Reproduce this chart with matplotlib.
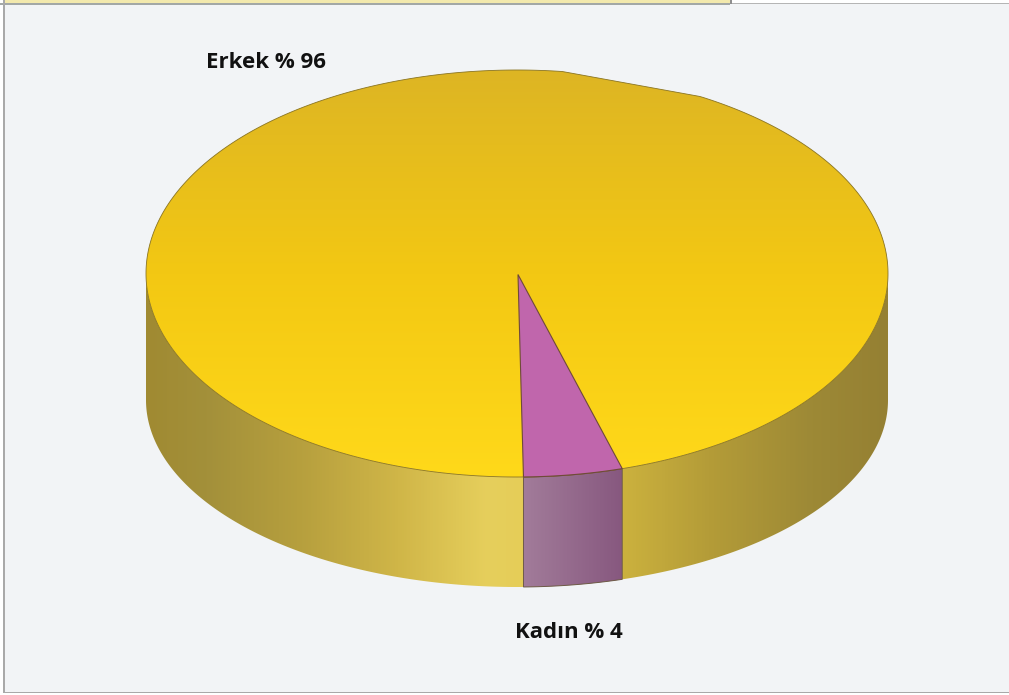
import numpy as np
import matplotlib.pyplot as plt
from matplotlib.colors import LinearSegmentedColormap
from matplotlib.patches import Polygon, Rectangle

# slice shares as drawn (the labels round them to 96 / 4)
labels = ["Erkek % 96", "Kadın % 4"]
shares = [95.7, 4.3]

W, H = 1009, 695
BG = "#f2f4f6"
EDGE = "#8a7420"

# pie geometry in pixels
cx, cy, rx, ry = 517, 273.5, 371, 203.5
bottom_cy, bottom_ry = 400, 187
start = 89.0
sweep = 360 * shares[1] / sum(shares)


def rim(t, y0=cy, r=ry):
    t = np.radians(t)
    return cx + rx * np.cos(t), y0 + r * np.sin(t)


def gradient(ax, clip, extent, cmap, vertical=False):
    g = np.linspace(0, 1, 512)
    g = g[:, None] if vertical else g[None, :]
    # extent runs top to bottom because the y axis is inverted
    im = ax.imshow(g, extent=extent, cmap=cmap, aspect="auto", origin="upper", zorder=2)
    im.set_clip_path(clip)


fig = plt.figure(figsize=(W / 100, H / 100), dpi=100, facecolor="white")
ax = fig.add_axes([0, 0, 1, 1])
ax.set_axis_off()

# panel and the strip above it
ax.add_patch(Rectangle((3, 3), W, 690, fc=BG, ec="none", zorder=0))
ax.add_patch(Rectangle((5, 0), 725, 3, fc="#f3e9ad", ec="none", zorder=0))
ax.add_patch(Rectangle((0, 3), 730, 1.5, fc="#a3a8a6", ec="none", zorder=1))
ax.add_patch(Rectangle((730, 3), W, 1.2, fc="#b5b5b5", ec="none", zorder=1))
ax.add_patch(Rectangle((730, 0), 1.5, 4, fc="#8f8f8f", ec="none", zorder=1))
ax.add_patch(Rectangle((3, 0), 2, 692, fc="#a9a9a9", ec="none", zorder=1))
ax.add_patch(Rectangle((3, 691.5), W, 1.8, fc="#a9a9a9", ec="none", zorder=1))

# side wall
ts = np.linspace(0, 180, 361)
xb, yb = rim(ts, bottom_cy, bottom_ry)
xt, yt = rim(ts)
side_pts = np.r_[np.c_[xb, yb], np.c_[xt[::-1], yt[::-1]]]
side = Polygon(side_pts, closed=True, fc="none", ec="none", transform=ax.transData)
ax.add_patch(side)
stops = [(0, "#a08a32"), (0.08, "#a3903a"), (0.21, "#b7a03e"), (0.34, "#d0b648"),
         (0.46, "#e6cf5c"), (0.51, "#e5cd58"), (0.64, "#ccb23e"), (0.76, "#b49c38"),
         (0.9, "#9d8936"), (1, "#958033")]
gradient(ax, side, (cx - rx, cx + rx, 600, 270),
         LinearSegmentedColormap.from_list("wall", stops))

# Kadın part of the wall
ts2 = np.linspace(start - sweep, start, 40)
xb2, yb2 = rim(ts2, bottom_cy, bottom_ry)
xt2, yt2 = rim(ts2)
wall2 = Polygon(np.r_[np.c_[xb2, yb2], np.c_[xt2[::-1], yt2[::-1]]], closed=True,
                fc="none", ec="none")
ax.add_patch(wall2)
gradient(ax, wall2, (xt2.min(), xt2.max(), 600, 460),
         LinearSegmentedColormap.from_list("wall2", ["#a27c9a", "#87587f"]))
wall2_edge = Polygon(wall2.get_xy(), closed=True, fc="none", ec="#6d5a4a", lw=0.7, zorder=3)
ax.add_patch(wall2_edge)

# top face, with the flat stretch on its upper edge
tt = np.linspace(0, 360, 721)
xe, ye = rim(tt)
flat = (ye < cy) & (xe > 565) & (xe < 700)
ye = np.where(flat, 72 + (xe - 565) * (96.5 - 72) / (700 - 565), ye)
top = Polygon(np.c_[xe, ye], closed=True, fc="none", ec="none")
ax.add_patch(top)
gradient(ax, top, (cx - rx, cx + rx, cy + ry, cy - ry),
         LinearSegmentedColormap.from_list("top", ["#ddb524", "#f3c813", "#ffd91a"]),
         vertical=True)
ax.add_patch(Polygon(np.c_[xe, ye], closed=True, fc="none", ec=EDGE, lw=0.6, zorder=3))

# Kadın slice on top
ts3 = np.linspace(start - sweep, start, 40)
x3, y3 = rim(ts3)
ax.add_patch(Polygon(np.r_[[[cx + 1, cy + 1]], np.c_[x3, y3]], closed=True,
                     fc="#c066ac", ec="#6f4a3a", lw=0.8, zorder=4))

ax.text(266.5, 63, labels[0], fontsize=16, fontweight="bold", family="Open Sans",
        ha="center", va="center", color="#111111", zorder=5)
ax.text(569, 633, labels[1], fontsize=16, fontweight="bold", family="Open Sans",
        ha="center", va="center", color="#111111", zorder=5)

ax.set_xlim(0, W)
ax.set_ylim(H, 0)
fig.savefig("out.png", dpi=100, facecolor="white")
plt.close(fig)
